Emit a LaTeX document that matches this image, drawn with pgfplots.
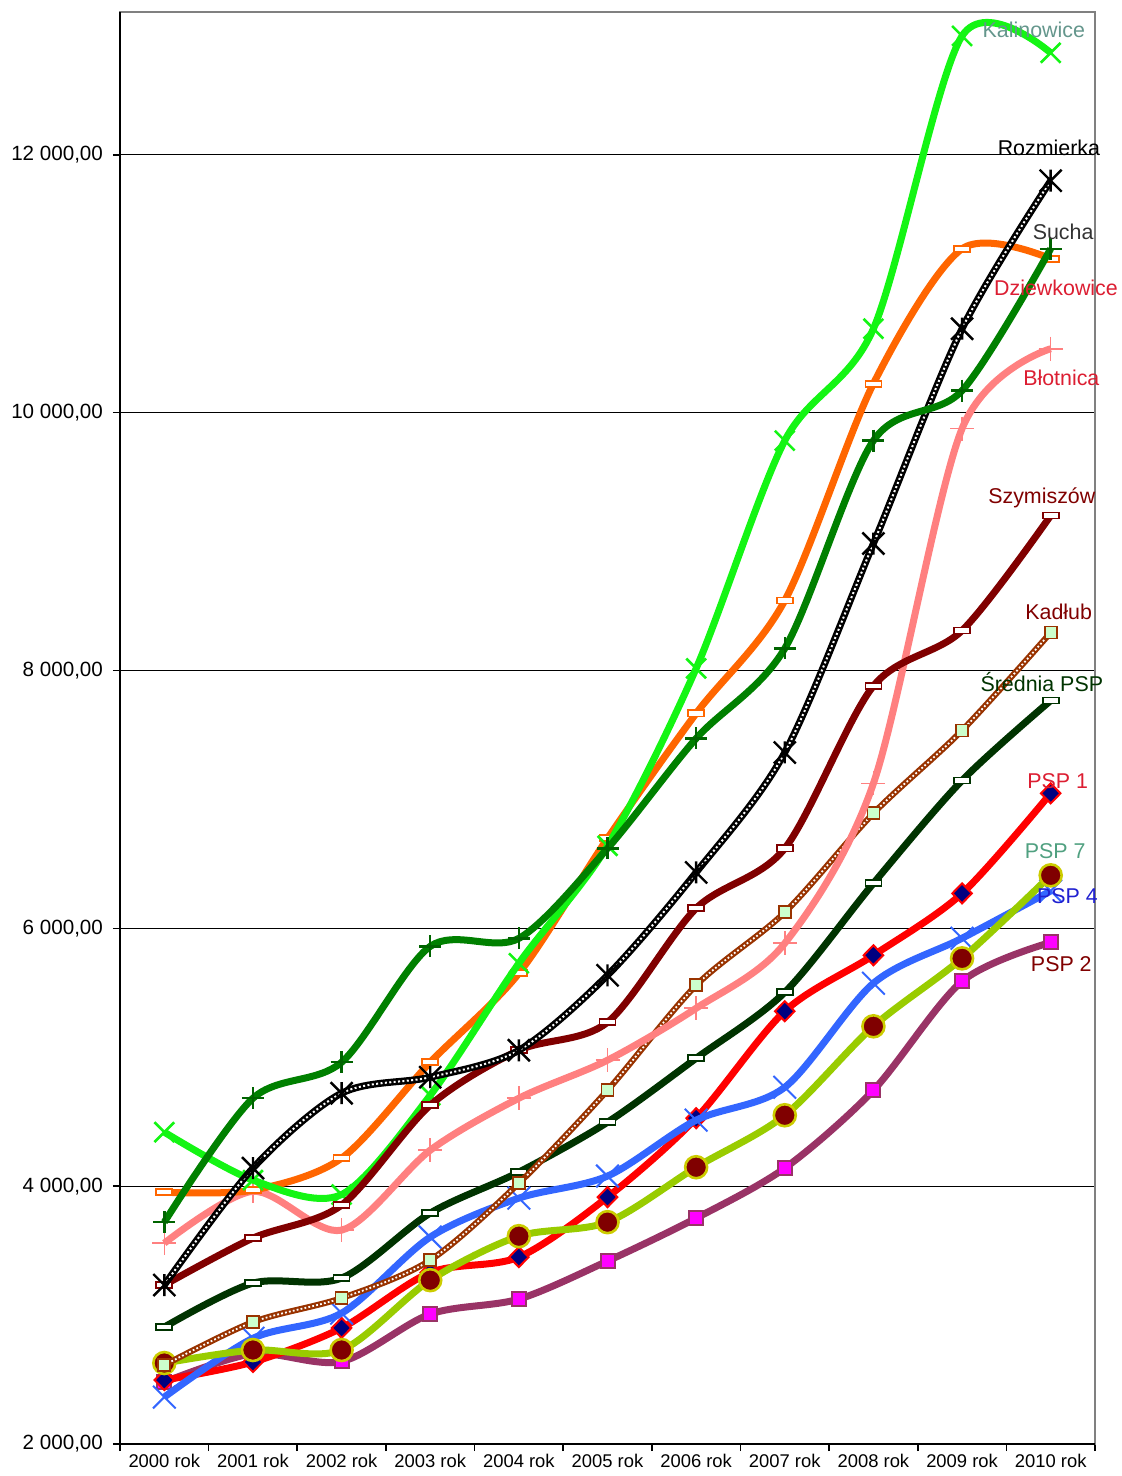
\documentclass[border=0pt]{standalone}
\usepackage{fontspec}
\setmainfont{Liberation Sans}
\usepackage{pgfplots}
\usepackage{pgfplotstable}
\pgfplotsset{compat=1.18}

\definecolor{kal}{RGB}{20,245,20}
\definecolor{kaltxt}{RGB}{100,150,140}
\definecolor{suc}{RGB}{0,128,0}
\definecolor{sucm}{RGB}{0,100,0}
\definecolor{dzi}{RGB}{255,102,0}
\definecolor{blo}{RGB}{255,128,128}
\definecolor{szy}{RGB}{128,0,0}
\definecolor{kad}{RGB}{153,51,0}
\definecolor{kadf}{RGB}{204,255,204}
\definecolor{sre}{RGB}{0,51,0}
\definecolor{psp1}{RGB}{255,0,0}
\definecolor{navy}{RGB}{0,0,128}
\definecolor{psp7}{RGB}{153,204,0}
\definecolor{psp7m}{RGB}{204,204,0}
\definecolor{psp7txt}{RGB}{80,160,128}
\definecolor{psp4}{RGB}{51,102,255}
\definecolor{psp4txt}{RGB}{32,32,208}
\definecolor{psp2}{RGB}{153,51,102}
\definecolor{mag}{RGB}{255,0,255}
\definecolor{redtxt}{RGB}{220,30,50}

% x plus vertical bar, like the spreadsheet star marker
\pgfdeclareplotmark{xstar}{%
  \pgfpathmoveto{\pgfqpoint{-\pgfplotmarksize}{-\pgfplotmarksize}}%
  \pgfpathlineto{\pgfqpoint{\pgfplotmarksize}{\pgfplotmarksize}}%
  \pgfpathmoveto{\pgfqpoint{-\pgfplotmarksize}{\pgfplotmarksize}}%
  \pgfpathlineto{\pgfqpoint{\pgfplotmarksize}{-\pgfplotmarksize}}%
  \pgfpathmoveto{\pgfqpoint{0pt}{-\pgfplotmarksize}}%
  \pgfpathlineto{\pgfqpoint{0pt}{\pgfplotmarksize}}%
  \pgfusepathqstroke}
% flat hollow bar (dash marker)
\pgfdeclareplotmark{dashbox}{%
  \pgfpathrectangle{\pgfqpoint{-\pgfplotmarksize}{-0.38\pgfplotmarksize}}%
    {\pgfqpoint{2\pgfplotmarksize}{0.76\pgfplotmarksize}}%
  \pgfusepathqfillstroke}

\pgfplotstableread{
x  Kal   Roz   Suc   Dzi   Blo   Szy   Kad   Sre   Pa    Pg    Pd    Pb
0  4419  3233  3721  3953  3558  3233  2612  2907  2496  2628  2364  2480
1  4047  4140  4682  3969  3960  3597  2946  3248  2636  2729  2820  2700
2  3935  4721  4961  4217  3659  3853  3132  3287  2900  2729  3015  2640
3  4705  4845  5860  4961  4279  4628  3426  3791  3330  3271  3605  3008
4  5729  5054  5922  5651  4682  5054  4023  4109  3450  3612  3907  3124
5  6640  5636  6620  6698  4977  5271  4744  4496  3915  3721  4078  3419
6  8016  6434  7473  7667  5380  6155  5558  4992  4527  4147  4512  3752
7  9783  7364  8171  8543  5884  6620  6124  5504  5357  4550  4767  4140
8  10651 8985  9783  10225 7124  7880  6892  6349  5791  5240  5574  4744
9  12922 10651 10171 11271 9876  8310  7535  7147  6271  5767  5923  5589
10 12791 11799 11271 11194 10496 9202  8294  7767  7047  6411  6290  5891
}\data

\begin{document}
\begin{tikzpicture}
\path[use as bounding box] (-60pt,-16pt) rectangle (500.5pt,722pt);
\begin{axis}[
    at={(0,0)}, anchor=south west,
    scale only axis, width=487.5pt, height=716pt,
    xmin=-0.5, xmax=10.5, ymin=2000, ymax=13108,
    xtick={-0.5,0.5,...,10.5}, xticklabels={},
    extra x ticks={0,1,...,10},
    extra x tick labels={2000 rok,2001 rok,2002 rok,2003 rok,2004 rok,2005 rok,2006 rok,2007 rok,2008 rok,2009 rok,2010 rok},
    extra x tick style={major tick length=0pt},
    ytick={2000,4000,...,12000},
    yticklabels={{2 000,00},{4 000,00},{6 000,00},{8 000,00},{10 000,00},{12 000,00}},
    ymajorgrids, grid style={black, line width=0.6pt},
    tick pos=left, tick align=outside,
    major tick length=3.5pt,
    tick style={black, line width=0.8pt},
    axis line style={draw=gray, line width=1pt},
    clip mode=individual,
    /pgf/number format/assume math mode=true,
    yticklabel style={font=\fontsize{10.3}{12}\selectfont, xshift=-1.5pt},
    xticklabel style={font=\fontsize{9.2}{11}\selectfont, yshift=-1.5pt},
    every axis plot/.append style={smooth, line width=3.5pt},
]
% PSP 2
\addplot[psp2, mark=square*, mark size=3.5pt,
  mark options={fill=mag, draw=psp2, line width=1pt}] table[x=x,y=Pb] {\data};
% PSP 1
\addplot[psp1, mark=diamond*, mark size=5pt,
  mark options={fill=navy, draw=psp1, line width=1pt, xscale=1.3}] table[x=x,y=Pa] {\data};
% PSP 4
\addplot[psp4, mark=x, mark size=8pt,
  mark options={line width=1pt}] table[x=x,y=Pd] {\data};
% PSP 7
\addplot[psp7, mark=*, mark size=5.5pt,
  mark options={fill=szy, draw=psp7m, line width=1.3pt}] table[x=x,y=Pg] {\data};
% Srednia PSP
\addplot[sre, mark=dashbox, mark size=4pt,
  mark options={fill=white, draw=sre, line width=0.9pt}] table[x=x,y=Sre] {\data};
% Kadlub: brown line with white dots
\addplot[kad, line width=3pt] table[x=x,y=Kad] {\data};
\addplot[white, line width=0.9pt, dash pattern=on 0.9pt off 1.1pt,
  mark=square*, mark size=3pt,
  mark options={solid, fill=kadf, draw=kad, line width=0.9pt}] table[x=x,y=Kad] {\data};
% Blotnica
\addplot[blo, mark=+, mark size=6pt,
  mark options={line width=0.8pt}] table[x=x,y=Blo] {\data};
% Dziewkowice
\addplot[dzi, mark=dashbox, mark size=4pt,
  mark options={fill=white, draw=dzi, line width=0.9pt}] table[x=x,y=Dzi] {\data};
% Kalinowice
\addplot[kal, mark=x, mark size=7pt,
  mark options={line width=1.3pt}] table[x=x,y=Kal] {\data};
% Szymiszow
\addplot[szy, mark=dashbox, mark size=4pt,
  mark options={fill=white, draw=szy, line width=0.9pt}] table[x=x,y=Szy] {\data};
% Rozmierka: black line with white dots
\addplot[black, line width=3.5pt] table[x=x,y=Roz] {\data};
\addplot[white, line width=1pt, dash pattern=on 1pt off 1.2pt,
  mark=xstar, mark size=5.5pt,
  mark options={solid, draw=black, line width=1.2pt}] table[x=x,y=Roz] {\data};
% Sucha
\addplot[suc, mark=+, mark size=5.5pt,
  mark options={draw=sucm, line width=1.2pt}] table[x=x,y=Suc] {\data};

\draw[black, line width=1pt] (rel axis cs:0,1) -- (rel axis cs:0,0) -- (rel axis cs:1,0);

\begin{scope}[every node/.style={anchor=base, inner sep=0pt, font=\fontsize{10.7}{12}\selectfont}]
\node[text=kaltxt]  at (axis cs:9.81,12907) {Kalinowice};
\node[text=black]   at (axis cs:9.98,11992) {Rozmierka};
\node[text=black!80] at (axis cs:10.14,11341) {Sucha};
\node[text=redtxt]  at (axis cs:10.06,10907) {Dziewkowice};
\node[text=redtxt]  at (axis cs:10.12,10209) {Błotnica};
\node[text=szy]     at (axis cs:9.90,9295) {Szymiszów};
\node[text=szy]     at (axis cs:10.09,8395) {Kadłub};
\node[text=sre]     at (axis cs:9.90,7837) {Średnia PSP};
\node[text=redtxt]  at (axis cs:10.08,7085) {PSP 1};
\node[text=psp7txt] at (axis cs:10.05,6543) {PSP 7};
\node[text=psp4txt] at (axis cs:10.19,6194) {PSP 4};
\node[text=szy]     at (axis cs:10.12,5667) {PSP 2};
\end{scope}
\end{axis}
\end{tikzpicture}
\end{document}
